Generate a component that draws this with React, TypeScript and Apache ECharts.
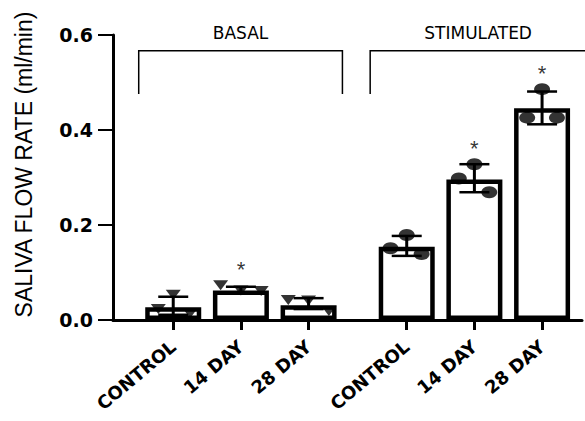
import React, { useEffect, useRef } from "react";
import * as echarts from "echarts";

const categories = ["CONTROL", "14 DAY", "28 DAY", "CONTROL", "14 DAY", "28 DAY"];
const positions = [1, 2, 3, 4.45, 5.45, 6.45];
const barMeans = [0.027, 0.062, 0.031, 0.154, 0.296, 0.446];
const errLow = [0.011, 0.057, 0.023, 0.135, 0.269, 0.412];
const errHigh = [0.049, 0.07, 0.046, 0.177, 0.328, 0.481];
const pointOffsets = [
  [-0.22, 0, 0.25],
  [-0.3, 0, 0.3],
  [-0.3, 0, 0.3],
  [-0.24, 0, 0.22],
  [-0.23, 0, 0.22],
  [-0.22, 0, 0.22],
];
const pointValues = [
  [0.023, 0.053, 0.014],
  [0.073, 0.062, 0.061],
  [0.042, 0.041, 0.019],
  [0.151, 0.179, 0.139],
  [0.298, 0.328, 0.269],
  [0.426, 0.486, 0.426],
];
const significant = [false, true, false, false, true, true];
const basalIdx = [0, 1, 2];
const stimIdx = [3, 4, 5];
const groupNames = ["BASAL", "STIMULATED"];
const groupSpans = [
  [0.49, 3.5],
  [3.91, 7.1],
];
const bracketTop = 0.567;
const bracketBottom = 0.476;
const headerLevel = 0.604;

export default function App() {
  const ref = useRef<HTMLDivElement>(null);
  useEffect(() => {
    if (!ref.current) return;
    const chart = echarts.init(ref.current, null, { renderer: "svg" });
    const pts = (idx: number[]) =>
      idx.flatMap((i) => pointValues[i].map((v, k) => [positions[i] + pointOffsets[i][k], v]));
    const labelFor = (v: number) => {
      const i = positions.findIndex((p) => Math.abs(p - v) < 0.01);
      return i >= 0 ? categories[i] : "";
    };
    chart.setOption({
      animation: false,
      grid: {
        left: 113,
        right: 3,
        top: 35,
        bottom: 101,
        containLabel: false,
        outerBoundsMode: "none",
      },
      xAxis: {
        type: "value",
        min: 0.11,
        max: 7.04,
        splitLine: { show: false },
        axisLine: { show: true, lineStyle: { color: "#000", width: 3 } },
        axisTick: {
          show: true,
          customValues: positions,
          length: 10,
          lineStyle: { color: "#000", width: 3 },
        },
        axisLabel: {
          customValues: positions,
          formatter: (v: number) => labelFor(v),
          rotate: 40,
          margin: 24,
          color: "#000",
          fontFamily: "DejaVu Sans",
          fontWeight: "bold",
          fontSize: 18,
        },
      },
      yAxis: {
        type: "value",
        min: 0,
        max: 0.6,
        interval: 0.2,
        name: "SALIVA FLOW RATE (ml/min)",
        nameLocation: "middle",
        nameGap: 78,
        nameTextStyle: {
          color: "#000",
          fontFamily: "Liberation Sans",
          fontSize: 23,
          padding: [0, 0, 0, 26],
        },
        splitLine: { show: false },
        axisLine: { show: true, lineStyle: { color: "#000", width: 3 } },
        axisTick: { show: true, length: 15, lineStyle: { color: "#000", width: 2 } },
        axisLabel: {
          formatter: (v: number) => v.toFixed(1),
          margin: 20,
          color: "#000",
          fontFamily: "DejaVu Sans",
          fontWeight: "bold",
          fontSize: 19,
        },
      },
      series: [
        {
          type: "bar",
          data: positions.map((p, i) => [p, barMeans[i]]),
          barWidth: 56,
          itemStyle: { color: "#fff", borderColor: "#000", borderWidth: 4.5 },
          z: 2,
        },
        {
          type: "custom",
          data: positions.map((p, i) => [p, errLow[i], errHigh[i]]),
          encode: { x: 0, y: [1, 2] },
          z: 3,
          renderItem: (params: any, api: any) => {
            const x = api.value(0);
            const top = api.coord([x, api.value(2)]);
            const bot = api.coord([x, api.value(1)]);
            const h = 15;
            return {
              type: "group",
              children: [
                { type: "line", shape: { x1: top[0], y1: top[1], x2: bot[0], y2: bot[1] }, style: { stroke: "#000", lineWidth: 3 } },
                { type: "line", shape: { x1: top[0] - h, y1: top[1], x2: top[0] + h, y2: top[1] }, style: { stroke: "#000", lineWidth: 2.5 } },
                { type: "line", shape: { x1: bot[0] - h, y1: bot[1], x2: bot[0] + h, y2: bot[1] }, style: { stroke: "#000", lineWidth: 2.5 } },
              ],
            };
          },
        },
        {
          type: "scatter",
          data: pts(basalIdx),
          symbol: "triangle",
          symbolRotate: 180,
          symbolSize: [15, 10],
          itemStyle: { color: "#000" },
          z: 4,
        },
        {
          type: "scatter",
          data: pts(stimIdx),
          symbol: "circle",
          symbolSize: [16, 12],
          itemStyle: { color: "#000" },
          z: 4,
        },
        {
          type: "scatter",
          data: positions
            .map((p, i) => (significant[i] ? [p, Math.max(errHigh[i], ...pointValues[i])] : null))
            .filter((d) => d !== null),
          symbolSize: 0,
          label: {
            show: true,
            formatter: "*",
            position: "top",
            distance: 5,
            color: "#000",
            fontFamily: "Liberation Sans",
            fontSize: 22,
          },
          z: 5,
        },
      ],
    });

    const px = (x: number, y: number) => chart.convertToPixel({ gridIndex: 0 }, [x, y]) as number[];
    const graphics: any[] = [];
    groupSpans.forEach((span, g) => {
      const lt = px(span[0], bracketTop);
      const lb = px(span[0], bracketBottom);
      const rt = px(span[1], bracketTop);
      const rb = px(span[1], bracketBottom);
      graphics.push({
        type: "polyline",
        shape: { points: [lb, lt, rt, rb] },
        style: { stroke: "#000", lineWidth: 1.5, fill: null },
        silent: true,
      });
      const hc = px((span[0] + span[1]) / 2, headerLevel);
      graphics.push({
        type: "text",
        x: hc[0],
        y: hc[1],
        style: {
          text: groupNames[g],
          fontSize: 17,
          fontFamily: "DejaVu Sans",
          fill: "#000",
          align: "center",
          verticalAlign: "middle",
        },
        silent: true,
      });
    });
    chart.setOption({ graphic: graphics });

    return () => chart.dispose();
  }, []);
  return (
    <div
      ref={ref}
      style={{ position: "fixed", left: 0, top: 0, width: 585, height: 421, background: "#fff" }}
    />
  );
}
